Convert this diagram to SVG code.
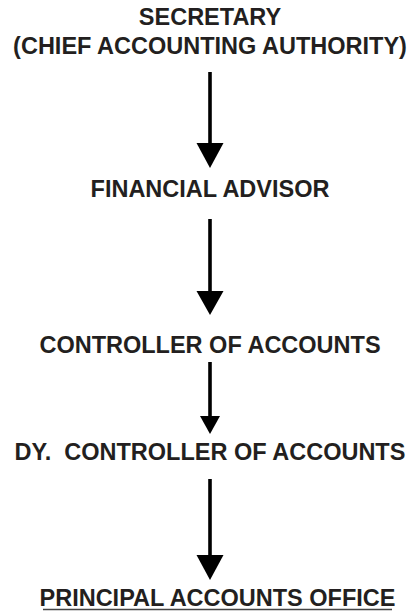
<svg xmlns="http://www.w3.org/2000/svg" width="411" height="614" viewBox="0 0 411 614">
<style>
.t{font-family:"Liberation Sans",Arial,sans-serif;font-weight:bold;font-size:23.5px;fill:#231f20;text-anchor:middle;white-space:pre}
.ln{stroke:#000;stroke-width:3.6;fill:none}
.hd{fill:#000}
</style>
<rect width="411" height="614" fill="#fff"/>
<g id="secretary">
<text class="t" x="210" y="25">SECRETARY</text>
<text class="t" x="210" y="53.5">(CHIEF ACCOUNTING AUTHORITY)</text>
</g>
<g id="financial-advisor">
<text class="t" x="210" y="197">FINANCIAL ADVISOR</text>
</g>
<g id="controller">
<text class="t" x="210" y="353">CONTROLLER OF ACCOUNTS</text>
</g>
<g id="dy-controller">
<text class="t" x="210" y="460" xml:space="preserve">DY.  CONTROLLER OF ACCOUNTS</text>
</g>
<g id="pao">
<text class="t" x="217.5" y="606">PRINCIPAL ACCOUNTS OFFICE</text>
<line x1="43" y1="609.5" x2="392" y2="609.5" stroke="#444" stroke-width="1.5"/>
</g>
<g id="connectors">
<line class="ln" x1="210" y1="72" x2="210" y2="145"/>
<polygon class="hd" points="196.5,143 223.5,143 210,168"/>
<line class="ln" x1="210" y1="219" x2="210" y2="293"/>
<polygon class="hd" points="196.5,291 223.5,291 210,315"/>
<line class="ln" x1="210" y1="362" x2="210" y2="418"/>
<polygon class="hd" points="200,416 220,416 210,434"/>
<line class="ln" x1="210" y1="479" x2="210" y2="557"/>
<polygon class="hd" points="196.5,555 223.5,555 210,580"/>
</g>
</svg>
